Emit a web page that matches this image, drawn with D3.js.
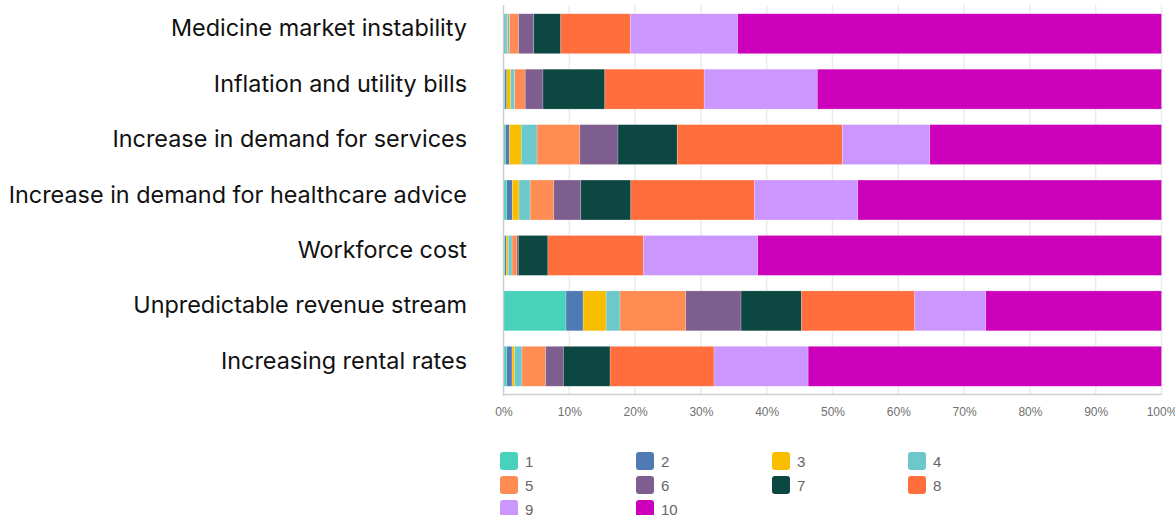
<!DOCTYPE html>
<html>
<head>
<meta charset="utf-8">
<script src="https://cdn.jsdelivr.net/npm/d3@7"></script>
<style>
  body { margin: 0; background: #fff; }
  .cat { font-family: Inter, "Noto Sans", sans-serif; font-size: 23.4px; fill: #111; }
  .tick text { font-family: "Liberation Sans", Arial, sans-serif; font-size: 12px; fill: #707070; }
  .legend text { font-family: "Liberation Sans", Arial, sans-serif; font-size: 15px; fill: #666; }
</style>
</head>
<body>
<svg id="chart" width="1175" height="515"></svg>
<script>
const categories = [
  "Medicine market instability",
  "Inflation and utility bills",
  "Increase in demand for services",
  "Increase in demand for healthcare advice",
  "Workforce cost",
  "Unpredictable revenue stream",
  "Increasing rental rates"
];

const seriesKeys = ["1", "2", "3", "4", "5", "6", "7", "8", "9", "10"];

// percentage share of each score, per category
const medicine   = [0.3, 0.2, 0.1, 0.3, 1.4, 2.3, 4.1, 10.6, 16.3, 64.4];
const inflation  = [0.2, 0.3, 0.6, 0.6, 1.6, 2.7, 9.4, 15.1, 17.2, 52.3];
const services   = [0.3, 0.6, 1.8, 2.4, 6.5, 5.8, 9.0, 25.1, 13.3, 35.2];
const healthcare = [0.5, 0.85, 1.0, 1.7, 3.6, 4.1, 7.6, 18.8, 15.7, 46.15];
const workforce  = [0.2, 0.25, 0.3, 0.55, 0.75, 0.2, 4.5, 14.5, 17.4, 61.35];
const revenue    = [9.5, 2.6, 3.5, 2.1, 10.0, 8.4, 9.2, 17.2, 10.8, 26.7];
const rental     = [0.5, 0.8, 0.4, 1.1, 3.6, 2.7, 7.1, 15.8, 14.3, 53.7];

const seriesColors = ["#48d2bb", "#4f7ab4", "#f9bd00", "#6dc8cc", "#ff8c52",
                      "#7e5e8f", "#0c4741", "#ff6e3c", "#cc96ff", "#cc00bb"];

const tickValues = [0, 10, 20, 30, 40, 50, 60, 70, 80, 90, 100];

const rows = [medicine, inflation, services, healthcare, workforce, revenue, rental]
  .map((vals, i) => {
    const o = { category: categories[i] };
    seriesKeys.forEach((k, j) => o[k] = vals[j]);
    return o;
  });

const svg = d3.select("#chart");

const x = d3.scaleLinear().domain([0, 100]).range([503.5, 1161.5]);
const y = d3.scaleBand().domain(categories).range([6, 394])
  .paddingInner(0.28).paddingOuter(0.14);
const color = d3.scaleOrdinal().domain(seriesKeys).range(seriesColors);

const stacked = d3.stack().keys(seriesKeys)(rows);

// grid
svg.append("g")
  .selectAll("line")
  .data(tickValues.slice(1))
  .join("line")
  .attr("x1", d => x(d)).attr("x2", d => x(d))
  .attr("y1", 5).attr("y2", 394)
  .attr("stroke", "#ebebeb")
  .attr("stroke-width", 1.5);

// bars
svg.append("g")
  .selectAll("g")
  .data(stacked)
  .join("g")
  .attr("fill", d => color(d.key))
  .selectAll("rect")
  .data(d => d)
  .join("rect")
  .attr("x", d => x(d[0]))
  .attr("y", d => y(d.data.category))
  .attr("width", d => Math.max(0, x(d[1]) - x(d[0])))
  .attr("height", y.bandwidth())
  .attr("stroke", "#fff")
  .attr("stroke-opacity", 0.35)
  .attr("stroke-width", 0.6);

// bottom axis
svg.append("g")
  .attr("transform", "translate(0,394)")
  .call(d3.axisBottom(x).tickValues(tickValues).tickFormat(d => d + "%").tickSize(0).tickPadding(13))
  .call(g => g.select(".domain").attr("stroke", "#d0d0d0").attr("stroke-width", 1.5));

// left axis line
svg.append("line")
  .attr("x1", x(0)).attr("x2", x(0))
  .attr("y1", 5).attr("y2", 396)
  .attr("stroke", "#cfcfcf")
  .attr("stroke-width", 1.5);

// category labels
svg.append("g")
  .selectAll("text")
  .data(categories)
  .join("text")
  .attr("class", "cat")
  .attr("x", 467)
  .attr("y", d => y(d) + y.bandwidth() / 2 + 2.5)
  .attr("text-anchor", "end")
  .text(d => d);

// legend
const legend = svg.append("g").attr("class", "legend")
  .selectAll("g")
  .data(seriesKeys)
  .join("g")
  .attr("transform", (d, i) => `translate(${500 + (i % 4) * 136},${452 + Math.floor(i / 4) * 24})`);

legend.append("rect")
  .attr("width", 18).attr("height", 18).attr("rx", 3)
  .attr("fill", d => color(d));

legend.append("text")
  .attr("x", 25).attr("y", 14.5)
  .text(d => d);
</script>
</body>
</html>
